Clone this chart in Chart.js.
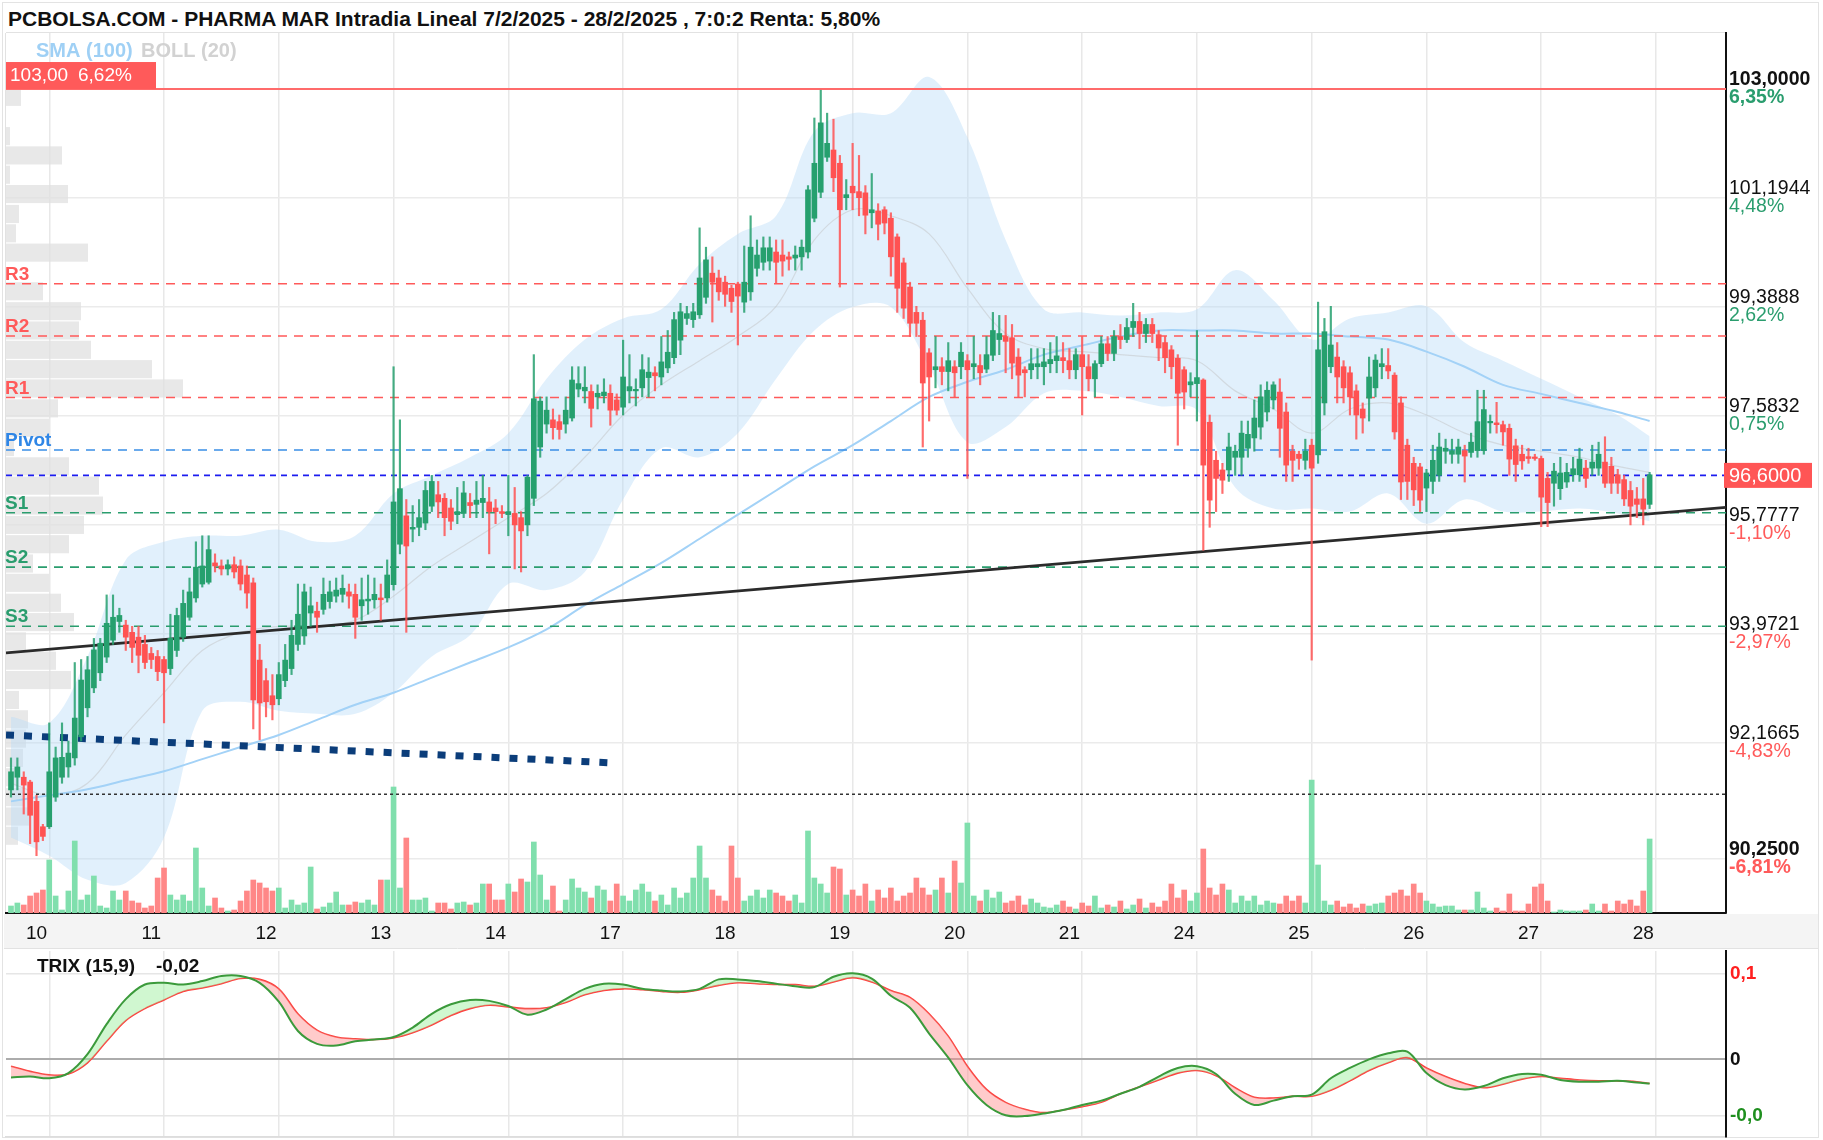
<!DOCTYPE html>
<html>
<head>
<meta charset="utf-8">
<script src="https://cdn.jsdelivr.net/npm/chart.js@4.4.1/dist/chart.umd.min.js"></script>
<style>
html, body { margin: 0; padding: 0; background: #fff; }
body { width: 1823px; height: 1140px; position: relative; overflow: hidden; }
#title { position: absolute; left: 8px; top: 7px; font: bold 21px "Liberation Sans", Arial, sans-serif; color: #111; white-space: nowrap; }
#frame { position: absolute; left: 2px; top: 2px; width: 1815px; height: 1134px; border: 1px solid #e3e3e3; pointer-events: none; }
#main { position: absolute; left: 0; top: 0; }
#trix { position: absolute; left: 0; top: 950px; }
</style>
</head>
<body>
<div id="frame"></div>
<div id="title">PCBOLSA.COM - PHARMA MAR Intradia Lineal 7/2/2025 - 28/2/2025 , 7:0:2 Renta: 5,80%</div>
<canvas id="main" width="1823" height="950"></canvas>
<canvas id="trix" width="1823" height="190"></canvas>
<script>
// velas de 30 minutos, indice 0 = primera vela visible (dia 7)
var open = [91.39,91.60,91.60,91.52,91.20,90.78,90.78,91.27,91.60,91.77,
91.92,92.27,92.75,93.08,93.33,93.59,93.87,94.18,94.12,94.00,
93.92,93.80,93.65,93.60,93.55,93.40,93.70,93.92,94.25,94.57,
94.80,94.83,95.15,95.10,95.05,95.12,95.10,94.95,94.82,93.54,
93.20,92.95,92.90,93.20,93.40,93.80,93.94,94.32,94.35,94.38,
94.51,94.60,94.63,94.67,94.63,94.44,94.52,94.54,94.57,94.57,
94.79,95.46,95.93,95.71,95.74,95.81,96.09,96.28,96.22,96.06,
95.95,95.97,96.15,96.12,96.15,96.16,96.06,96.00,95.95,95.97,
95.90,95.78,96.22,97.07,97.45,97.52,97.49,97.45,97.55,98.03,
98.00,97.99,97.90,97.92,97.96,97.85,97.73,98.00,98.00,98.05,
98.22,98.30,98.23,98.38,98.55,98.84,99.20,99.18,99.26,99.55,
99.95,99.87,99.80,99.70,99.77,99.47,99.64,100.03,100.13,100.15,
100.30,100.25,100.22,100.20,100.22,100.30,100.86,101.29,101.87,101.99,
101.77,101.20,101.39,101.30,101.28,100.95,100.98,101.00,100.86,100.55,
100.12,99.72,99.30,99.17,98.63,98.35,98.40,98.32,98.40,98.40,
98.50,98.40,98.42,98.36,98.59,98.85,98.90,98.88,98.56,98.35,
98.35,98.40,98.40,98.45,98.50,98.55,98.50,98.35,98.60,98.40,
98.20,98.45,98.78,98.62,98.90,98.85,99.05,99.15,98.95,99.10,
98.93,98.80,98.68,98.54,98.35,98.10,98.12,98.18,97.48,96.85,
96.69,96.69,96.90,96.90,97.05,97.22,97.40,97.65,97.85,97.98,
97.65,97.00,96.95,96.85,97.10,96.94,97.80,98.40,98.56,98.40,
98.30,98.00,97.70,97.88,98.05,98.40,98.42,98.26,97.80,97.10,
96.80,96.74,96.39,96.50,96.60,97.00,96.95,96.95,97.01,96.98,
97.01,97.01,97.47,97.47,97.44,97.38,97.09,96.95,96.91,96.89,
96.88,96.55,96.47,96.38,96.49,96.61,96.61,96.72,96.72,96.72,
96.82,96.75,96.61,96.53,96.35,96.21,96.21,96.12];

var high = [91.92,91.92,91.69,91.55,91.30,90.82,92.50,92.10,92.50,92.20,
93.50,93.55,93.60,93.90,93.90,94.62,94.62,94.40,94.20,94.10,
94.10,93.95,93.75,93.70,93.60,94.30,94.40,94.70,94.90,95.50,
95.60,95.60,95.30,95.20,95.20,95.25,95.20,95.10,94.90,93.80,
93.40,93.30,93.50,93.80,94.20,94.80,94.80,94.75,94.50,94.90,
94.85,94.90,94.95,94.80,94.80,94.90,94.95,94.90,94.80,95.20,
98.40,97.52,96.20,96.10,96.20,96.50,96.60,96.50,96.30,96.20,
96.40,96.50,96.30,96.50,96.60,96.40,96.20,96.10,96.60,96.40,
96.00,96.60,98.60,97.90,97.90,97.70,97.60,97.90,98.40,98.40,
98.40,98.10,98.10,98.20,98.10,97.95,98.84,98.60,98.20,98.60,
98.55,98.40,98.90,99.00,99.30,99.45,99.40,99.45,100.70,100.38,
100.22,100.00,99.90,99.75,99.80,100.40,100.90,100.50,100.55,100.55,
100.50,100.50,100.30,100.40,100.50,101.40,102.52,102.98,102.60,102.50,
101.90,101.50,102.10,101.90,101.40,101.60,101.10,101.05,100.95,100.60,
100.20,99.80,99.40,99.30,98.70,98.90,98.55,98.80,98.50,98.80,
98.60,98.90,98.60,98.90,99.30,99.25,99.25,99.10,98.70,98.40,
98.70,98.70,98.70,98.80,98.90,98.80,98.70,98.70,98.90,98.60,
98.50,98.90,98.90,99.00,99.10,99.20,99.45,99.30,99.20,99.20,
99.00,98.90,98.75,98.60,98.40,98.30,99.00,98.20,97.60,97.00,
96.80,97.30,97.10,97.50,97.50,97.85,98.10,98.15,98.15,98.20,
97.80,97.10,97.00,97.20,97.20,99.47,99.20,99.40,98.80,98.50,
98.40,98.10,97.80,98.56,98.60,98.70,98.70,98.30,97.90,97.20,
96.90,96.80,96.70,97.10,97.30,97.20,97.20,97.20,97.10,97.30,
98.01,98.01,97.60,97.81,97.50,97.45,97.20,97.10,97.05,96.95,
96.92,96.65,96.80,96.90,96.80,96.90,97.05,96.85,97.10,97.15,
97.24,96.90,96.70,96.60,96.50,96.40,96.55,96.65];

var low = [91.27,91.39,90.99,90.50,90.30,90.55,90.75,91.20,91.50,91.60,
91.80,92.20,92.60,93.00,93.20,93.50,93.80,94.00,93.70,93.50,
93.33,93.40,93.40,93.20,92.50,93.30,93.60,93.85,94.20,94.50,
94.75,94.80,95.00,94.95,94.95,94.90,94.70,94.40,92.40,92.22,
92.60,92.55,92.80,93.10,93.30,93.70,93.80,94.10,94.00,94.30,
94.40,94.50,94.50,94.40,93.90,94.20,94.30,94.40,94.20,94.50,
94.70,95.30,94.00,95.50,95.60,95.70,96.00,95.90,95.60,95.70,
95.80,95.90,95.90,95.90,95.90,95.30,95.80,95.90,95.60,95.05,
95.00,95.60,96.10,96.90,97.30,97.20,97.20,97.30,97.50,97.90,
97.80,97.40,97.70,97.80,97.43,97.60,97.60,97.80,97.75,97.90,
97.90,98.00,98.10,98.30,98.45,98.60,99.10,99.05,99.20,99.45,
99.14,99.50,99.40,99.30,98.76,99.30,99.50,99.90,100.00,100.00,
99.79,99.90,100.00,100.00,100.00,100.20,100.80,101.20,101.80,101.30,
99.72,101.00,101.00,100.90,100.60,100.70,100.50,100.60,99.90,99.30,
99.20,98.90,98.90,97.07,97.50,98.05,98.10,98.00,97.90,98.20,
96.55,98.20,98.10,98.30,98.50,98.60,98.30,98.20,97.90,97.90,
98.20,98.20,98.10,98.30,98.30,98.30,98.20,98.20,97.60,98.00,
97.90,98.40,98.50,98.50,98.70,98.80,98.90,98.70,98.80,98.80,
98.50,98.30,98.20,97.10,97.70,97.90,97.50,95.36,95.74,96.00,
96.30,96.50,96.60,96.60,96.90,97.00,97.20,97.50,97.70,96.90,
96.50,96.50,96.70,96.70,93.54,96.80,97.60,98.30,97.80,97.80,
97.60,97.20,97.30,97.50,97.90,98.20,98.20,97.20,96.20,96.20,
96.10,96.00,96.00,96.30,96.50,96.80,96.80,96.80,96.49,96.90,
96.90,96.95,97.30,97.30,97.10,96.60,96.50,96.70,96.80,96.85,
95.75,95.75,96.09,96.20,96.40,96.50,96.50,96.40,96.60,96.60,
96.40,96.30,96.30,96.10,95.78,95.90,95.78,96.05];

var close = [91.69,91.77,91.47,90.97,90.53,90.62,91.69,91.92,91.93,92.00,
92.58,93.21,93.38,93.71,93.82,94.15,94.25,94.28,93.92,93.75,
93.62,93.50,93.55,93.35,93.33,93.90,94.28,94.48,94.67,95.08,
95.10,95.37,95.10,95.05,95.12,95.00,94.80,94.65,92.88,92.83,
92.85,92.80,93.30,93.54,93.95,94.30,94.67,94.44,94.25,94.63,
94.67,94.70,94.73,94.60,94.25,94.54,94.55,94.63,94.54,94.95,
96.16,96.38,95.43,95.74,95.90,96.35,96.50,96.16,95.90,95.84,
96.00,96.31,96.10,96.19,96.22,96.00,96.00,95.97,96.00,95.78,
95.68,96.57,97.87,97.83,97.68,97.39,97.36,97.68,98.18,98.12,
98.06,97.71,97.96,97.98,97.68,97.68,98.23,98.07,98.01,98.35,
98.31,98.25,98.48,98.64,99.18,99.31,99.28,99.31,99.87,100.17,
99.80,99.64,99.60,99.48,99.57,99.80,100.38,100.25,100.37,100.37,
100.13,100.15,100.18,100.25,100.38,101.33,101.77,102.44,102.10,101.53,
101.00,101.25,101.28,101.20,100.91,101.00,100.76,100.78,100.22,99.70,
99.37,99.12,99.12,98.13,98.23,98.40,98.32,98.50,98.30,98.64,
98.35,98.45,98.30,98.60,99.00,98.95,98.82,98.46,98.26,98.30,
98.45,98.45,98.48,98.52,98.58,98.50,98.35,98.60,98.40,98.20,
98.45,98.78,98.62,98.90,98.85,99.05,99.15,98.95,99.10,98.95,
98.71,98.55,98.40,97.96,97.98,98.15,98.22,96.77,96.19,96.55,
96.52,97.07,97.00,97.30,97.28,97.55,97.90,98.01,98.10,97.38,
96.77,96.85,96.88,97.00,96.72,98.68,98.98,98.76,98.23,98.05,
97.90,97.60,97.55,98.23,98.51,98.45,98.33,97.32,96.49,96.50,
96.36,96.19,96.64,96.85,97.07,97.05,97.01,97.07,96.92,97.15,
97.49,97.69,97.49,97.44,97.32,96.87,96.78,96.84,96.88,96.88,
96.24,96.15,96.67,96.64,96.65,96.71,96.87,96.55,96.82,96.95,
96.47,96.47,96.47,96.21,96.09,96.12,96.04,96.61];

// volumen (miles de titulos)
var volume = [7,10,8,17,20,23,53,17,3,22,72,13,18,37,7,5,22,13,22,12,
10,5,7,35,45,18,13,18,12,65,25,7,15,5,2,3,12,22,33,30,25,22,25,5,13,
8,10,46,4,6,10,21,8,8,11,10,13,8,33,33,126,25,75,13,13,15,2,10,10,4,
10,11,8,10,29,29,13,13,29,21,34,31,71,38,13,27,2,13,34,25,21,15,27,
23,12,29,17,12,23,29,21,12,18,8,25,15,20,35,67,
35,23,17,12,67,35,12,17,23,15,23,20,17,12,18,10,82,35,
29,20,46,44,18,23,17,29,12,23,15,25,12,17,20,35,25,18,
23,35,20,52,30,90,17,12,23,15,21,10,12,17,8,14,10,6,
5,8,12,6,4,10,7,17,5,8,6,12,4,8,14,5,10,6,12,
29,15,23,12,20,64,25,18,29,23,10,17,12,17,8,12,10,9,
17,12,17,10,133,48,12,8,12,6,9,5,9,7,9,10,17,20,
23,17,29,20,12,9,6,7,
7,3,3,3,21,5,2,5,2,19,2,2,9,26,29,12,1,3,2,2,2,3,9,2,9,2,12,9,13,7,22,74];
// velas cuyo volumen se pinta en verde aunque la vela sea roja
var volGreenIdx = [150, 204];

// bandas de Bollinger (20) y SMA (100), leidas cada 6 velas
var bandIdx = [0,6,12,18,24,30,36,42,48,54,60,66,72,78,84,90,96,102,108,114,120,126,132,138,144,150,156,162,168,174,180,186,192,198,204,210,216,222,228,234,240,246,252,257];
var bollUp = [92.6,92.5,93.6,95.2,95.5,95.6,95.6,95.7,95.5,95.6,96.3,96.6,96.9,97.3,98.2,98.85,99.2,99.35,100.1,100.6,100.9,102.3,102.6,102.6,103.2,102.2,100.5,99.35,99.3,99.25,99.3,99.35,100.0,99.5,98.85,99.2,99.3,99.4,98.8,98.5,98.2,97.9,97.6,97.25];
var bollDown = [90.6,90.3,89.9,89.85,90.6,92.7,92.85,92.7,92.65,92.65,93.0,93.6,93.95,94.8,94.7,95.0,96.2,97.05,96.9,97.3,98.2,99.0,99.39,99.39,98.4,97.15,97.4,97.96,98.0,97.9,97.75,97.68,96.4,96.05,96.05,96.0,96.3,95.8,96.2,96.0,96.0,96.05,95.97,95.84];
var bollMid = [91.5,91.3,91.5,92.3,93.0,93.7,94.0,94.1,94.1,94.2,94.6,95.1,95.5,95.9,96.3,96.9,97.6,98.1,98.5,98.9,99.4,100.5,101.0,100.9,100.6,99.7,98.95,98.7,98.65,98.6,98.55,98.5,98.0,97.7,97.3,97.7,97.8,97.6,97.3,97.1,97.0,96.9,96.75,96.65];
var sma100 = [91.2,91.3,91.4,91.55,91.7,91.9,92.1,92.3,92.55,92.8,93.0,93.25,93.5,93.75,94.05,94.45,94.8,95.15,95.55,95.95,96.35,96.75,97.1,97.5,97.9,98.15,98.35,98.6,98.75,98.9,99.0,99.0,99.0,98.95,98.95,98.9,98.85,98.65,98.4,98.1,97.95,97.8,97.65,97.5];

// perfil de volumen por precio: techo de cada tramo y volumen
var profTop = [103.66,103.34,103.02,102.69,102.37,102.05,101.73,101.41,101.08,100.76,100.44,100.12,99.80,99.47,99.15,98.83,98.51,98.19,97.86,97.54,97.22,96.90,96.58,96.25,95.93,95.61,95.29,94.97,94.64,94.32,94.00,93.68,93.36,93.03,92.71,92.39,92.07,91.75,91.42,91.10,90.78];
var profVol = [0,0,15,0,4,56,4,62,13,10,82,0,37,75,73,85,146,177,52,43,8,63,93,97,78,63,27,43,55,68,20,50,65,13,22,20,17,12,18,23,12];

// niveles
var levelNames = ['R3','R2','R1','Pivot','S1','S2','S3'];
var levelVals = [99.775, 98.91, 97.89, 97.02, 95.98, 95.08, 94.10];
var maxLevel = 103.00;
var lastPrice = 96.60;
var dottedLevel = 91.32;
var trendStart = 93.66, trendEnd = 96.07;
var navyStart = 92.30, navyEnd = 91.84, navyEndIdx = 93.9;

// ejes
var dayLabels = ['10','11','12','13','14','17','18','19','20','21','24','25','26','27','28'];
var dayIdx = [6,24,42,60,78,96,114,132,150,168,186,204,222,240,258];
var yTicks = [90.25, 92.1665, 93.9721, 95.7777, 97.5832, 99.3888, 101.1944, 103.0];
var yPct = ['-6,81%','-4,83%','-2,97%','-1,10%','0,75%','2,62%','4,48%','6,35%'];

// TRIX (15,9), leido cada 3 velas
var trixIdx = [0,3,6,9,12,15,18,21,24,27,30,33,36,39,42,45,48,51,54,57,60,63,66,69,72,75,78,81,84,87,90,93,96,99,102,105,108,111,114,117,120,123,126,129,132,135,138,141,144,147,150,153,156,159,162,165,168,171,174,177,180,183,186,189,192,195,198,201,204,207,210,213,216,219,222,225,228,231,234,237,240,243,246,249,252,255,257];
var trixVals = [-0.021,-0.020,-0.022,-0.016,0.006,0.041,0.070,0.087,0.089,0.087,
0.091,0.097,0.097,0.089,0.067,0.033,0.018,0.016,0.021,0.023,
0.026,0.037,0.053,0.064,0.069,0.068,0.062,0.052,0.058,0.070,
0.082,0.088,0.087,0.082,0.080,0.079,0.082,0.093,0.093,0.091,
0.088,0.085,0.084,0.096,0.100,0.094,0.074,0.060,0.030,0.002,
-0.030,-0.053,-0.065,-0.066,-0.063,-0.059,-0.053,-0.048,-0.040,-0.032,
-0.020,-0.010,-0.008,-0.017,-0.040,-0.053,-0.048,-0.043,-0.041,-0.022,
-0.010,0.000,0.007,0.009,-0.016,-0.030,-0.035,-0.031,-0.022,-0.017,
-0.018,-0.024,-0.026,-0.026,-0.025,-0.027,-0.028];
var trixSignal = [-0.008,-0.014,-0.018,-0.017,-0.004,0.021,0.045,0.059,0.069,0.079,
0.083,0.088,0.094,0.093,0.082,0.053,0.034,0.026,0.024,0.023,
0.025,0.031,0.040,0.051,0.059,0.063,0.061,0.059,0.060,0.066,
0.075,0.080,0.082,0.081,0.079,0.078,0.081,0.086,0.089,0.088,
0.087,0.087,0.085,0.090,0.095,0.090,0.080,0.072,0.053,0.027,
-0.008,-0.035,-0.050,-0.058,-0.062,-0.059,-0.055,-0.050,-0.040,-0.032,
-0.024,-0.016,-0.013,-0.019,-0.033,-0.044,-0.045,-0.043,-0.043,-0.036,
-0.025,-0.013,-0.004,0.002,-0.010,-0.020,-0.028,-0.033,-0.029,-0.023,
-0.020,-0.022,-0.024,-0.025,-0.025,-0.026,-0.028];
var trixTicks = [-0.066, 0, 0.1];
var trixTickLabels = ['-0,0', '0', '0,1'];

var SANS = '"Liberation Sans", Arial, sans-serif';
var GREEN = '#26a06e', RED = '#ff5252';
var xMin = -0.784, xMax = 268.98;

var up = close.map(function (c, i) { return c >= open[i]; });
var volUp = up.map(function (u, i) { return u || volGreenIdx.indexOf(i) >= 0; });
function pts(idx, vals) { return idx.map(function (x, k) { return { x: x, y: vals[k] }; }); }
function hline(v) { return [{ x: xMin, y: v }, { x: xMax, y: v }]; }
// los ejes no deben reservar margen extra por sus etiquetas
function noPad(s) { s.paddingTop = 0; s.paddingBottom = 0; s.paddingLeft = 0; s.paddingRight = 0; }

var levelDatasets = levelVals.map(function (v, k) {
    var n = levelNames[k];
    var col = n[0] === 'R' ? '#ff5a5a' : (n === 'Pivot' ? '#3a8ee6' : '#2a9d6e');
    return { type: 'line', data: hline(v), borderColor: col, borderWidth: 1.6, borderDash: [9, 7], pointRadius: 0, order: 6 };
});

var mainPlugin = {
    id: 'mainDeco',
    beforeDraw: function (chart) {
        var ctx = chart.ctx, a = chart.chartArea;
        ctx.save();
        ctx.fillStyle = '#f4f4f4';
        ctx.fillRect(4, a.bottom + 1, 1814, 948 - a.bottom - 1);
        ctx.strokeStyle = '#e2e2e2';
        ctx.lineWidth = 1;
        ctx.beginPath();
        ctx.moveTo(4, 948.5); ctx.lineTo(1818, 948.5);
        ctx.moveTo(a.left - 0.5, a.top); ctx.lineTo(a.left - 0.5, a.bottom);
        ctx.moveTo(a.left, a.top - 0.5); ctx.lineTo(a.right, a.top - 0.5);
        ctx.stroke();
        ctx.restore();
    },
    beforeDatasetsDraw: function (chart) {
        var ctx = chart.ctx, y = chart.scales.y, xp = chart.scales.xp;
        ctx.save();
        ctx.fillStyle = 'rgba(224,224,224,0.75)';
        profTop.forEach(function (p, k) {
            if (!profVol[k]) return;
            var t = y.getPixelForValue(p), b = y.getPixelForValue(p - 0.30);
            var x0 = xp.getPixelForValue(0), x1 = xp.getPixelForValue(profVol[k]);
            ctx.fillRect(x0, t, x1 - x0, b - t);
        });
        ctx.restore();
    },
    afterDatasetsDraw: function (chart) {
        var ctx = chart.ctx, y = chart.scales.y, a = chart.chartArea;
        ctx.save();
        // etiquetas de niveles
        ctx.font = 'bold 19px ' + SANS;
        ctx.textAlign = 'left';
        ctx.textBaseline = 'alphabetic';
        levelNames.forEach(function (n, k) {
            ctx.fillStyle = n[0] === 'R' ? '#ff5a5a' : (n === 'Pivot' ? '#2f86e6' : '#2a9d6e');
            ctx.fillText(n, 5, y.getPixelForValue(levelVals[k]) - 4);
        });
        // leyenda
        ctx.font = 'bold 20px ' + SANS;
        ctx.textBaseline = 'middle';
        ctx.fillStyle = '#9fd0f5';
        ctx.fillText('SMA (100)', 36, 51);
        ctx.fillStyle = '#d2d2d2';
        ctx.fillText('BOLL (20)', 141, 51);
        // caja del maximo
        var ym = y.getPixelForValue(maxLevel);
        ctx.fillStyle = '#ff5a5a';
        ctx.fillRect(6, ym - 27, 150, 27);
        ctx.fillStyle = '#fff';
        ctx.font = '19px ' + SANS;
        ctx.fillText('103,00', 10, ym - 13);
        ctx.fillText('6,62%', 78, ym - 13);
        // porcentajes del eje derecho
        yTicks.forEach(function (v, k) {
            var bold = (k === 0 || k === yTicks.length - 1);
            ctx.font = (bold ? 'bold ' : '') + '19.5px ' + SANS;
            ctx.fillStyle = yPct[k][0] === '-' ? '#ff5a5a' : '#2a9d6e';
            ctx.fillText(yPct[k], a.right + 3, y.getPixelForValue(v) + 9);
        });
        // ultimo precio
        var yl = y.getPixelForValue(lastPrice);
        ctx.fillStyle = '#ff5555';
        ctx.fillRect(a.right - 2, yl - 12.5, 88, 25);
        ctx.fillStyle = '#fff';
        ctx.font = '20px ' + SANS;
        ctx.fillText('96,6000', a.right + 3, yl + 1);
        ctx.restore();
    }
};

new Chart(document.getElementById('main'), {
    type: 'bar',
    data: {
        datasets: [
            { type: 'line', data: pts(bandIdx, bollUp), borderWidth: 0, pointRadius: 0, tension: 0.35, fill: '+1', backgroundColor: 'rgba(180,218,248,0.40)', order: 10 },
            { type: 'line', data: pts(bandIdx, bollDown), borderWidth: 0, pointRadius: 0, tension: 0.35, fill: false, order: 10 },
            { type: 'line', data: pts(bandIdx, bollMid), borderColor: 'rgba(190,190,190,0.45)', borderWidth: 1.2, pointRadius: 0, tension: 0.35, order: 9 },
            { type: 'line', data: pts(bandIdx, sma100), borderColor: '#a3d2f7', borderWidth: 2, pointRadius: 0, tension: 0.35, order: 8 },
            { type: 'bar', yAxisID: 'yv', xAxisID: 'x', data: volume.map(function (v, i) { return { x: i, y: v }; }),
              backgroundColor: volUp.map(function (u) { return u ? '#80dfad' : '#ff8787'; }), barThickness: 5, grouped: false, order: 7 },
            { type: 'line', data: hline(maxLevel), borderColor: '#ff6b6b', borderWidth: 2, pointRadius: 0, order: 6 }
        ].concat(levelDatasets).concat([
            { type: 'line', data: hline(lastPrice), borderColor: '#1c1cf0', borderWidth: 1.6, borderDash: [6, 5], pointRadius: 0, order: 6 },
            { type: 'line', data: hline(dottedLevel), borderColor: '#333', borderWidth: 1.5, borderDash: [3, 3], pointRadius: 0, order: 6 },
            { type: 'line', data: [{ x: xMin, y: trendStart }, { x: xMax, y: trendEnd }], borderColor: '#2b2b2b', borderWidth: 2.6, pointRadius: 0, order: 5 },
            { type: 'line', data: [{ x: xMin, y: navyStart }, { x: navyEndIdx, y: navyEnd }], borderColor: '#0b3d7a', borderWidth: 7, borderDash: [8, 10], pointRadius: 0, order: 5 },
            { type: 'bar', xAxisID: 'x', data: low.map(function (l, i) { return { x: i, y: [l, high[i]] }; }),
              backgroundColor: up.map(function (u) { return u ? 'rgba(38,160,110,0.85)' : 'rgba(255,82,82,0.85)'; }), barThickness: 1.5, grouped: false, order: 2 },
            { type: 'bar', xAxisID: 'x', data: open.map(function (o, i) { return { x: i, y: [o, close[i]] }; }),
              backgroundColor: up.map(function (u) { return u ? GREEN : RED; }), barThickness: 5, minBarLength: 1.5, grouped: false, order: 1 }
        ])
    },
    options: {
        responsive: false,
        animation: false,
        events: [],
        layout: { padding: { left: 6, top: 33, right: 0, bottom: 2 } },
        plugins: { legend: { display: false }, tooltip: { enabled: false } },
        scales: {
            x: {
                type: 'linear', min: xMin, max: xMax, offset: false,
                afterBuildTicks: function (s) { s.ticks = dayIdx.map(function (v) { return { value: v }; }); },
                afterFit: function (s) { s.height = 35; noPad(s); },
                grid: { color: '#e8e8e8', lineWidth: 1.5, drawTicks: false, offset: false },
                border: { display: true, color: '#111', width: 2 },
                ticks: { autoSkip: false, maxRotation: 0, padding: 9, labelOffset: -12.75, color: '#111',
                         font: { family: SANS, size: 19 },
                         callback: function (v, i) { return dayLabels[i]; } }
            },
            xp: {
                type: 'linear', axis: 'x', position: 'bottom', min: 0, max: 1720, offset: false,
                afterFit: function (s) { s.height = 0; noPad(s); },
                grid: { display: false, drawTicks: false, offset: false }, border: { display: false }, ticks: { display: false }
            },
            y: {
                type: 'linear', position: 'right', min: 89.351, max: 103.928,
                afterBuildTicks: function (s) { s.ticks = yTicks.map(function (v) { return { value: v }; }); },
                afterFit: function (s) { s.width = 97; noPad(s); },
                grid: { color: '#ebebeb', lineWidth: 1.5, drawTicks: false },
                border: { display: true, color: '#111', width: 2 },
                ticks: { padding: 3, labelOffset: -9, color: '#111',
                         font: function (c) { return { family: SANS, size: 19.5, weight: (c.index === 0 || c.index === yTicks.length - 1) ? 'bold' : 'normal' }; },
                         callback: function (v) { return v.toFixed(4).replace('.', ','); } }
            },
            yv: { type: 'linear', display: false, min: 0, max: 880 }
        }
    },
    plugins: [mainPlugin]
});

var trixPlugin = {
    id: 'trixDeco',
    afterDatasetsDraw: function (chart) {
        var ctx = chart.ctx;
        ctx.save();
        ctx.font = 'bold 19px ' + SANS;
        ctx.fillStyle = '#111';
        ctx.textBaseline = 'middle';
        ctx.fillText('TRIX (15,9)', 37, 17);
        ctx.fillText('-0,02', 156, 17);
        ctx.restore();
    }
};

new Chart(document.getElementById('trix'), {
    type: 'line',
    data: {
        datasets: [
            { data: pts(trixIdx, trixVals), borderColor: '#3b9a3b', borderWidth: 2, pointRadius: 0, tension: 0.35,
              fill: { target: 1, above: 'rgba(150,238,150,0.45)', below: 'rgba(255,140,140,0.45)' } },
            { data: pts(trixIdx, trixSignal), borderColor: '#ff3b3b', borderWidth: 1.6, pointRadius: 0, tension: 0.35, fill: false }
        ]
    },
    options: {
        responsive: false,
        animation: false,
        events: [],
        layout: { padding: { left: 6, top: 1, right: 0, bottom: 3 } },
        plugins: { legend: { display: false }, tooltip: { enabled: false } },
        scales: {
            x: {
                type: 'linear', min: xMin, max: xMax,
                afterBuildTicks: function (s) { s.ticks = dayIdx.map(function (v) { return { value: v }; }); },
                afterFit: function (s) { s.height = 0; noPad(s); },
                grid: { color: '#e8e8e8', lineWidth: 1.5, drawTicks: false },
                border: { display: true, color: '#dddddd', width: 1.5 },
                ticks: { display: false }
            },
            y: {
                type: 'linear', position: 'right', min: -0.0903, max: 0.126,
                afterBuildTicks: function (s) { s.ticks = trixTicks.map(function (v) { return { value: v }; }); },
                afterFit: function (s) { s.width = 97; noPad(s); },
                grid: { drawTicks: false,
                        color: function (c) { return c.tick && c.tick.value === 0 ? '#acacac' : '#e6e6e6'; },
                        lineWidth: function (c) { return c.tick && c.tick.value === 0 ? 2 : 1.5; } },
                border: { display: true, color: '#111', width: 2 },
                ticks: { padding: 4,
                         color: function (c) { return ['#1f8f1f', '#111', '#ff1f1f'][c.index]; },
                         font: { family: SANS, size: 19, weight: 'bold' },
                         callback: function (v, i) { return trixTickLabels[i]; } }
            }
        }
    },
    plugins: [trixPlugin]
});
</script>
</body>
</html>
